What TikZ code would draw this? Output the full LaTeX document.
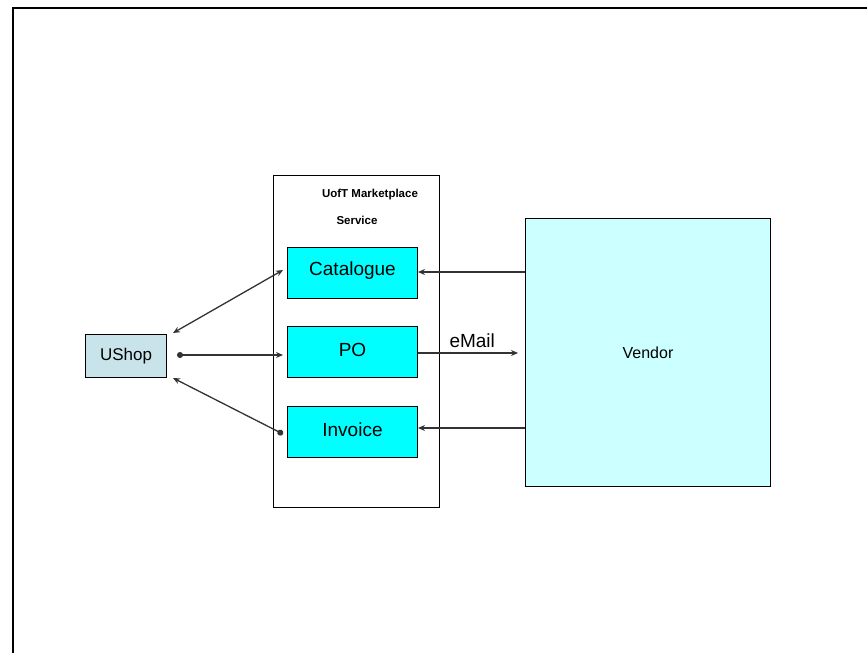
\documentclass[tikz,border=0pt]{standalone}
\usepackage{fontspec}
\setmainfont{Liberation Sans}
\usetikzlibrary{arrows.meta}
\definecolor{svc}{RGB}{0,255,255}
\definecolor{ushopc}{RGB}{200,228,234}
\definecolor{vendc}{RGB}{204,255,255}
\begin{document}
\begin{tikzpicture}[x=1pt,y=-1pt,
  box/.style={draw=black,line width=1pt,inner sep=0pt,anchor=north west},
  conn/.style={draw=black!80,line width=1.3pt},
  tip/.style={-{Stealth[length=7pt,width=6pt]}},
  big/.style={font=\fontsize{19}{22}\selectfont}
]
\useasboundingbox (0,0) rectangle (867,653);
\fill[white] (0,0) rectangle (867,653);
\coordinate (fA) at (13,653);
\coordinate (fB) at (13,8);
\coordinate (fC) at (867,8);
\draw[line width=2pt] (fA) -- (fB) -- (fC);
% service box
\node[box,minimum width=166pt,minimum height=332pt] (svcbox) at (273,175) {};
\node[font=\bfseries\fontsize{11.5}{13}\selectfont] (svct1) at (370,195) {UofT Marketplace};
\node[font=\bfseries\fontsize{11.5}{13}\selectfont] (svct2) at (357,220) {Service};
\node[box,fill=svc,minimum width=130pt,minimum height=51pt] (cat) at (287,247) {};
\node[big] (catl) at (cat.center) [yshift=2pt] {Catalogue};
\node[box,fill=svc,minimum width=130pt,minimum height=51pt] (po) at (287,326) {};
\node[big] (pol) at (po.center) [yshift=2pt] {PO};
\node[box,fill=svc,minimum width=130pt,minimum height=51pt] (inv) at (287,406) {};
\node[big] (invl) at (inv.center) [yshift=2pt] {Invoice};
% ushop
\node[box,fill=ushopc,minimum width=81pt,minimum height=43pt] (ushop) at (85,334) {};
\node[font=\fontsize{17}{20}\selectfont] (ushopl) at (ushop.center) {UShop};
% vendor
\node[box,fill=vendc,minimum width=245pt,minimum height=268pt] (vendor) at (525,218) {};
\node[font=\fontsize{16}{19}\selectfont] (vendorl) at (vendor.center) {Vendor};
% endpoints
\coordinate (u1) at (173,333);
\coordinate (u2) at (177,355);
\coordinate (u3) at (173,378);
\coordinate (c1) at (283,270);
\coordinate (c2) at (283,355);
\coordinate (c3) at (283,434);
\draw[conn,{Stealth[length=7pt,width=6pt]}-{Stealth[length=7pt,width=6pt]}] (u1) -- (c1);
\draw[conn,{Circle[length=6pt]}-{Stealth[length=7pt,width=6pt]}] (u2) -- (c2);
\draw[conn,{Stealth[length=7pt,width=6pt]}-{Circle[length=6pt]}] (u3) -- (c3);
% vendor side
\draw[conn,tip] (vendor.west |- 0,272) -- (cat.east |- 0,272);
\draw[conn,tip] (vendor.west |- 0,428) -- (inv.east |- 0,428);
\coordinate (em) at (518,353);
\draw[conn,tip] (po.east |- 0,353) -- (em);
\node[font=\fontsize{19}{22}\selectfont,anchor=base west] (emaill) at (446,347) {eMail};
\end{tikzpicture}
\end{document}
